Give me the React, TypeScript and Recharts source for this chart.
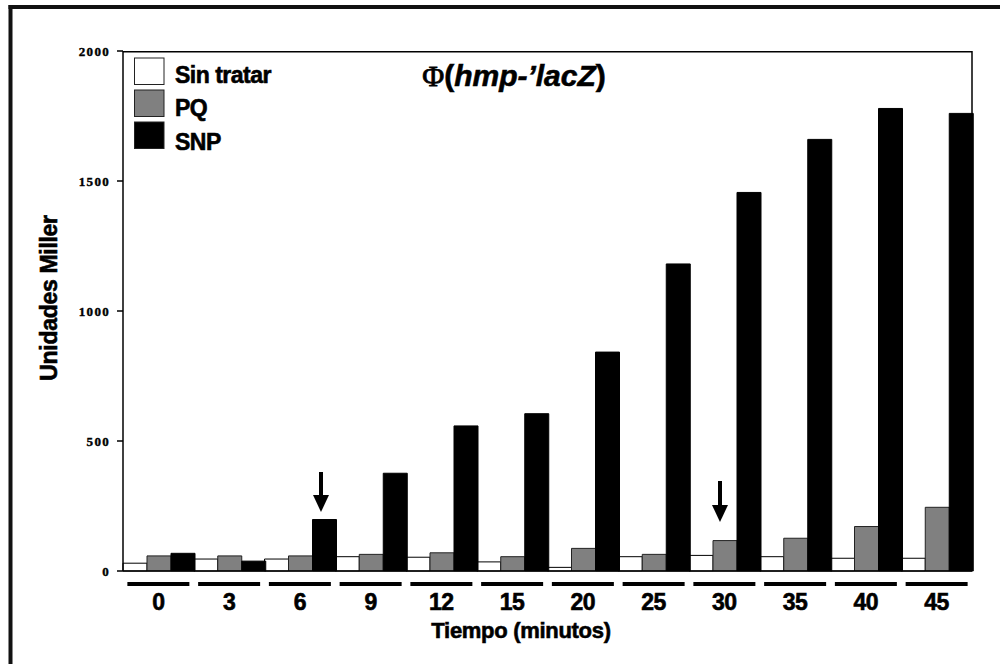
import React from "react";
import { BarChart, Bar, XAxis, YAxis } from "recharts";

const categories = ["0", "3", "6", "9", "12", "15", "20", "25", "30", "35", "40", "45"];
const sinTratar = [30, 46, 46, 55, 53, 35, 14, 55, 60, 55, 49, 49];
const pq = [58, 58, 58, 64, 70, 55, 87, 64, 117, 126, 171, 245];
const snp = [68, 38, 198, 376, 558, 605, 842, 1181, 1456, 1660, 1779, 1760];
const yTicks = [0, 500, 1000, 1500, 2000];

const data = categories.map((t, i) => ({
  t,
  sinTratar: sinTratar[i],
  pq: pq[i],
  snp: snp[i],
}));

const W = 1000;
const H = 664;
const SANS = "'Liberation Sans', Arial, sans-serif";
const SERIF = "'Liberation Serif', 'Times New Roman', serif";

// the original text is heavier than Liberation bold, a thin stroke thickens it
const heavy = { stroke: "#000", strokeWidth: 0.6 };

function YTick(props: any) {
  const { x, y, payload } = props;
  return (
    <text
      x={x}
      y={y}
      dy="0.35em"
      textAnchor="end"
      fontFamily={SERIF}
      fontWeight="bold"
      fontSize={13}
      letterSpacing={1.3}
      fill="#000"
      stroke="#000"
      strokeWidth={0.4}
    >
      {payload.value}
    </text>
  );
}

function XTick(props: any) {
  const { x, y, payload } = props;
  return (
    <g>
      <line x1={x - 31} x2={x + 31} y1={y + 13} y2={y + 13} stroke="#000" strokeWidth={4} />
      <text
        x={x}
        y={y + 39}
        textAnchor="middle"
        fontFamily={SANS}
        fontWeight="bold"
        fontSize={23}
        letterSpacing={-0.5}
        fill="#000"
        {...heavy}
      >
        {payload.value}
      </text>
    </g>
  );
}

function Arrow({ x, y1, y2 }: { x: number; y1: number; y2: number }) {
  const head = 17;
  return (
    <g>
      <line x1={x} x2={x} y1={y1} y2={y2 - head + 1} stroke="#000" strokeWidth={4} />
      <polygon points={`${x - 8},${y2 - head} ${x + 8},${y2 - head} ${x},${y2}`} fill="#000" />
    </g>
  );
}

export default function App() {
  const legend = [
    { name: "Sin tratar", fill: "#fff", y: 58, ty: 83 },
    { name: "PQ", fill: "#808080", y: 90, ty: 116 },
    { name: "SNP", fill: "#000", y: 122, ty: 150 },
  ];
  return (
    <div style={{ position: "absolute", left: 0, top: 0, width: W, height: H, background: "#fff" }}>
      <BarChart
        width={W}
        height={H}
        data={data}
        margin={{ top: 51, right: 28, left: 0, bottom: 0 }}
        barGap={0}
        barCategoryGap={0}
      >
        <XAxis
          dataKey="t"
          height={93}
          tickLine={false}
          tickSize={0}
          tickMargin={0}
          axisLine={{ stroke: "#000", strokeWidth: 1.5 }}
          tick={<XTick />}
          interval={0}
        />
        <YAxis
          width={123}
          domain={[0, 2000]}
          ticks={yTicks}
          tickSize={6}
          tickMargin={7}
          tickLine={{ stroke: "#000", strokeWidth: 1.5 }}
          axisLine={{ stroke: "#000", strokeWidth: 1.5 }}
          tick={<YTick />}
        />
        <Bar dataKey="sinTratar" fill="#fff" stroke="#000" strokeWidth={1} isAnimationActive={false} />
        <Bar dataKey="pq" fill="#808080" stroke="#222" strokeWidth={1} isAnimationActive={false} />
        <Bar dataKey="snp" fill="#000" stroke="#000" strokeWidth={1} isAnimationActive={false} />
      </BarChart>
      <svg
        width={W}
        height={H}
        style={{ position: "absolute", left: 0, top: 0, pointerEvents: "none" }}
      >
        {/* outer frame, only top and left visible */}
        <line x1={8.5} x2={W} y1={7} y2={7} stroke="#111" strokeWidth={4} />
        <line x1={10.5} x2={10.5} y1={5} y2={H} stroke="#111" strokeWidth={4} />
        {/* plot box top and right */}
        <line x1={123} x2={972} y1={51.7} y2={51.7} stroke="#000" strokeWidth={1.5} />
        <line x1={972} x2={972} y1={51} y2={571} stroke="#000" strokeWidth={1.5} />

        <text x={514} y={86} textAnchor="middle" fontSize={30} fill="#000">
          <tspan fontFamily={SERIF} stroke="#000" strokeWidth={0.8}>Φ</tspan>
          <tspan fontFamily={SANS} fontWeight="bold" {...heavy}>(</tspan>
          <tspan fontFamily={SANS} fontWeight="bold" fontStyle="italic" {...heavy}>hmp-’lacZ</tspan>
          <tspan fontFamily={SANS} fontWeight="bold" {...heavy}>)</tspan>
        </text>

        {legend.map((l) => (
          <g key={l.name}>
            <rect x={134.5} y={l.y} width={29.5} height={26.5} fill={l.fill} stroke="#222" strokeWidth={1} />
            <text
              x={175}
              y={l.ty}
              fontFamily={SANS}
              fontWeight="bold"
              fontSize={23}
              letterSpacing={-0.5}
              fill="#000"
              {...heavy}
            >
              {l.name}
            </text>
          </g>
        ))}

        <Arrow x={321} y1={472} y2={512} />
        <Arrow x={720} y1={481} y2={522} />

        <text
          transform="translate(57,298) rotate(-90)"
          textAnchor="middle"
          fontFamily={SANS}
          fontWeight="bold"
          fontSize={23}
          letterSpacing={-0.3}
          fill="#000"
          {...heavy}
        >
          Unidades Miller
        </text>
        <text
          x={521}
          y={638}
          textAnchor="middle"
          fontFamily={SANS}
          fontWeight="bold"
          fontSize={22}
          letterSpacing={-0.3}
          fill="#000"
          {...heavy}
        >
          Tiempo (minutos)
        </text>
      </svg>
    </div>
  );
}
